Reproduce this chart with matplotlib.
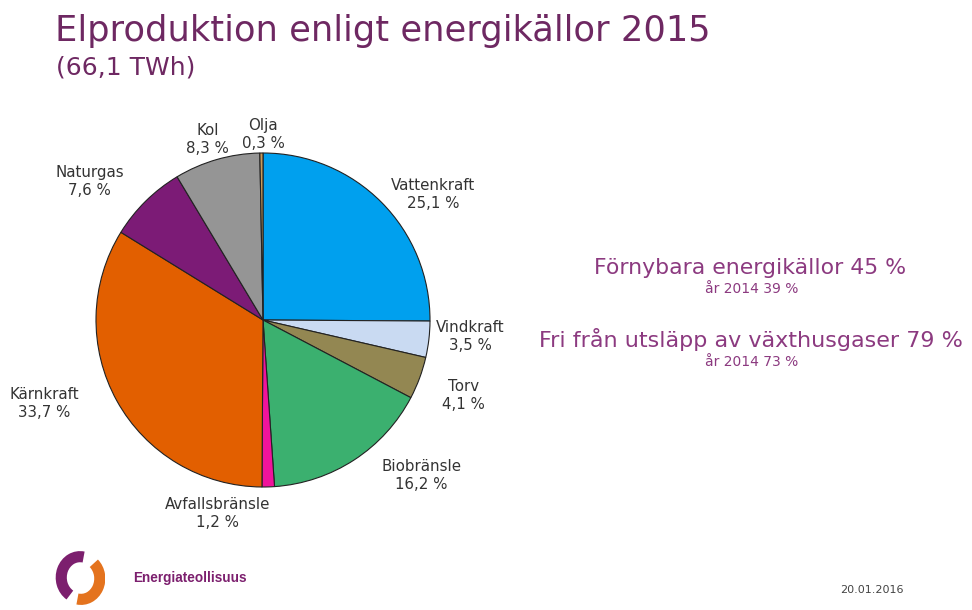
import matplotlib.pyplot as plt
from matplotlib.patches import Arc

# Data
labels = ['Vattenkraft', 'Vindkraft', 'Torv', 'Biobränsle', 'Avfallsbränsle',
          'Kärnkraft', 'Naturgas', 'Kol', 'Olja']
shares = [25.1, 3.5, 4.1, 16.2, 1.2, 33.7, 7.6, 8.3, 0.3]
colors = ['#00a0ee', '#c9daf2', '#938752', '#3bb06f', '#f0149b',
          '#e25f00', '#7c1b76', '#959595', '#c89a5a']

# label placement (in units of pie radius)
label_pos = [(1.02, 0.75), (1.24, -0.10), (1.20, -0.45), (0.95, -0.93),
             (-0.27, -1.16), (-1.31, -0.50), (-1.04, 0.83), (-0.33, 1.08),
             (0.0, 1.11)]

W, H = 972, 610
fig = plt.figure(figsize=(W / 100, H / 100), dpi=100)
fig.patch.set_facecolor('white')

purple = '#6e2862'
pink = '#8c3a80'

# Title
fig.text(55 / W, 1 - 31 / H, 'Elproduktion enligt energikällor 2015',
         fontsize=25.4, color=purple, va='center', ha='left')
fig.text(56 / W, 1 - 68 / H, '(66,1 TWh)',
         fontsize=18, color=purple, va='center', ha='left')

# Pie
cx, cy, r = 263, 320, 167
ax = fig.add_axes([(cx - r) / W, 1 - (cy + r) / H, 2 * r / W, 2 * r / H])
ax.pie(shares, colors=colors, startangle=90, counterclock=False, radius=1,
       wedgeprops=dict(edgecolor='#222222', linewidth=0.8))
ax.set_xlim(-1, 1)
ax.set_ylim(-1, 1)
ax.set_aspect('equal')
ax.axis('off')

for name, val, (lx, ly) in zip(labels, shares, label_pos):
    txt = name + '\n' + f'{val:.1f}'.replace('.', ',') + ' %'
    ax.text(lx, ly, txt, ha='center', va='center', fontsize=10.8,
            color='#333333', linespacing=1.25, clip_on=False)

# Right side notes
fig.text(750 / W, 1 - 268 / H, 'Förnybara energikällor 45 %',
         fontsize=15.8, color=pink, ha='center', va='center')
fig.text(752 / W, 1 - 289 / H, 'år 2014 39 %',
         fontsize=10, color=pink, ha='center', va='center')
fig.text(751 / W, 1 - 340 / H, 'Fri från utsläpp av växthusgaser 79 %',
         fontsize=16, color=pink, ha='center', va='center')
fig.text(752 / W, 1 - 362 / H, 'år 2014 73 %',
         fontsize=10, color=pink, ha='center', va='center')

# Logo
lax = fig.add_axes([55 / W, 1 - 605 / H, 50 / W, 55 / H])
lax.set_xlim(-1.2, 1.2)
lax.set_ylim(-1.3, 1.3)
lax.set_aspect('equal')
lax.axis('off')
lax.add_patch(Arc((0, 0), 1.8, 2.0, theta1=80, theta2=240, color='#7c1f6e', lw=8))
lax.add_patch(Arc((0.05, -0.05), 1.8, 2.0, theta1=260, theta2=410, color='#e4731e', lw=8))
fig.text(133 / W, 1 - 578 / H, 'Energiateollisuus', fontsize=9.8,
         fontweight='bold', color='#7c1f6e', ha='left', va='center',
         family='Liberation Sans')
fig.text(872 / W, 1 - 590 / H, '20.01.2016', fontsize=8,
         color='#444444', ha='center', va='center')

fig.savefig('out.png', dpi=100)
